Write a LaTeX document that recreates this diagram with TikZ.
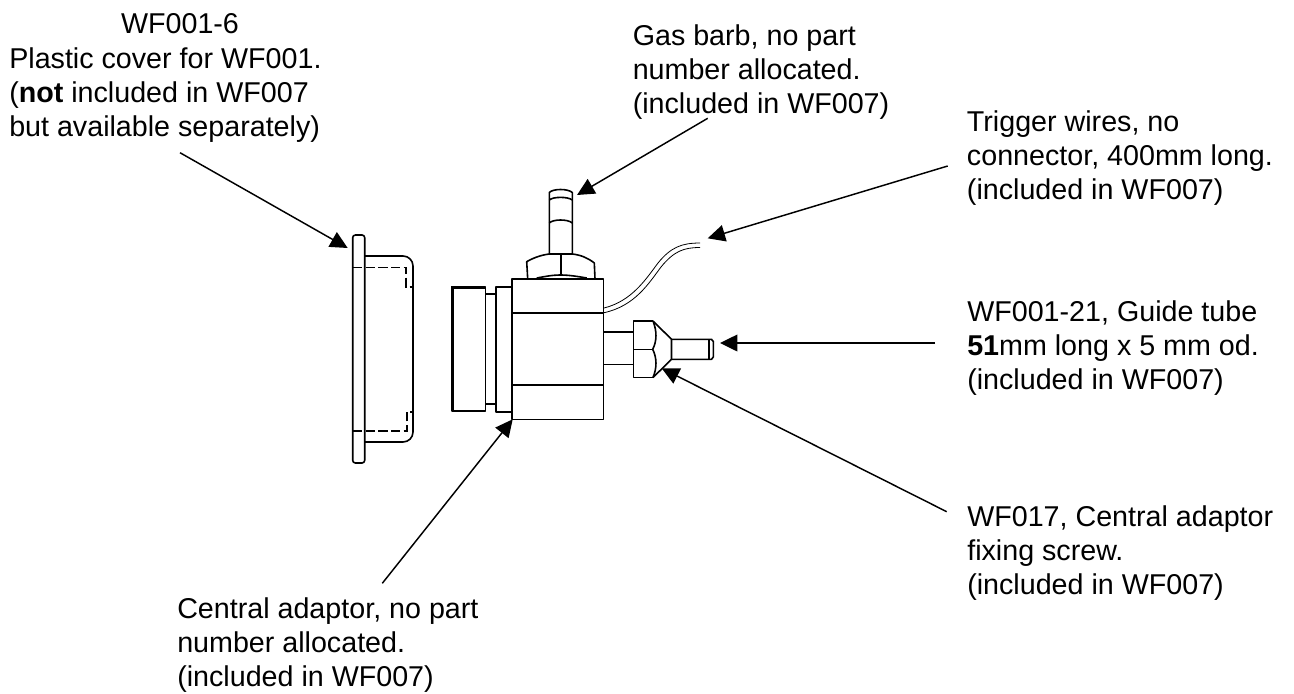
\documentclass[tikz,border=0pt]{standalone}
\usepackage{fontspec}
\setmainfont{Liberation Sans}
\usetikzlibrary{arrows.meta}
\newcommand{\tl}{\rule{0pt}{20pt}}
\tikzset{
  x=0.75pt,y=-0.75pt,
  txt/.style={anchor=north west,inner sep=0pt,align=left,font=\fontsize{21.5pt}{25.5pt}\selectfont},
  lead/.style={line width=1.1pt,-{Triangle[length=13pt,width=12.5pt]}},
  part/.style={line width=1.2pt,line join=round},
  hid/.style={line width=1.2pt,dash pattern=on 7pt off 2.5pt},
  wire/.style={line width=0.6pt}
}
\begin{document}
\begin{tikzpicture}
\useasboundingbox (0,0) rectangle (1294,693);
% plastic cover
\draw[part,rounded corners=2pt] (364.7,235) rectangle (352.7,463);
\draw[part,rounded corners=7.5pt] (364.7,256) -- (413,256) -- (413,442) -- (364.7,442);
\draw[hid] (353,267.3) -- (406,267.3) -- (406,286.7) -- (413,286.7);
\draw[hid] (353,430.7) -- (407,430.7) -- (407,411.7) -- (413,411.7);
% adaptor knob
\draw[part] (451.7,286.7) rectangle (485.3,411);
\draw[line width=2.4pt] (452.6,411) -- (452.6,287.5) -- (485,287.5);
\draw[part] (485.3,294) -- (496,294) (485.3,404) -- (496,404);
\draw[part] (496,286.7) rectangle (511.7,411.7);
% body
\draw[part] (511.7,279) rectangle (603.3,419.3);
\draw[part] (511.7,312.7) -- (603.3,312.7) (511.7,385) -- (603.3,385);
% hex nut on top
\draw[part] (527.7,279) -- (526.7,261.7) .. controls (533,258) and (541,255) .. (549.3,254) -- (572.3,254) .. controls (581,255) and (588,258) .. (594.3,263) -- (595,279);
\draw[part] (560.7,254) -- (560.7,275);
\draw[part] (536.7,278) .. controls (545,276.5) and (552,275) .. (560.7,275) .. controls (569,275) and (578,276.5) .. (586.7,278);
% gas barb
\draw[part] (549.3,254) -- (549.3,192.5) .. controls (553,188.5) and (568,188.5) .. (572.3,192.5) -- (572.3,254);
\draw[part] (549.3,200) .. controls (553,196.5) and (568,196.5) .. (572.3,200);
\draw[part] (549.3,223) .. controls (553,219) and (568,219) .. (572.3,223);
% trigger wires
\draw[wire] (604,308) .. controls (632,301) and (646,279) .. (658,263) .. controls (671,247) and (682,243) .. (700,243);
\draw[wire] (604,312.7) .. controls (635,306) and (649,283) .. (661,267) .. controls (674,251) and (684,247.5) .. (700,247.5);
% fixing screw and guide tube
\draw[part] (603.3,331.7) -- (633.3,331.7) (603.3,364.3) -- (633.3,364.3);
\draw[part] (653,321) -- (633.3,321) -- (633.3,377.5) -- (653,377.5);
\draw[part] (633.3,349.3) -- (652.7,349.3);
\draw[part] (653,321) .. controls (657,331) and (657,341) .. (652.7,349.3) .. controls (657,358) and (657,368) .. (653,377.5);
\draw[part] (653,321) -- (671.5,339.3) -- (671.5,359.3) -- (653,377.5);
\draw[part] (671.5,339.3) -- (711.5,339.3) -- (713.3,341.5) -- (713.3,357) -- (711.5,359.3) -- (671.5,359.3);
\draw[line width=0.8pt] (709,339.3) -- (709,359.3);
% texts
\node[anchor=base,inner sep=0pt,font=\fontsize{21.5pt}{25.5pt}\selectfont] (t0) at (180,33) {WF001-6};
\node[txt] (t1) at (9,41.3) {\tl Plastic cover for WF001.\\(\textbf{not} included in WF007\\but available separately)};
\node[txt] (t2) at (632.5,18.3) {\tl Gas barb, no part\\number allocated.\\(included in WF007)};
\node[txt] (t3) at (966.7,105) {\tl Trigger wires, no\\connector, 400mm long.\\(included in WF007)};
\node[txt] (t4) at (967,295) {\tl WF001-21, Guide tube\\\textbf{51}mm long x 5 mm od.\\(included in WF007)};
\node[txt] (t5) at (967,500) {\tl WF017, Central adaptor\\fixing screw.\\(included in WF007)};
\node[txt] (t6) at (177,592) {\tl Central adaptor, no part\\number allocated.\\(included in WF007)};
% leader end points
\coordinate (s1) at (180,152.7);  \coordinate (e1) at (347.7,248);
\coordinate (s2) at (707.7,118.3);\coordinate (e2) at (577,195);
\coordinate (s3) at (947.7,166);  \coordinate (e3) at (707.7,238.3);
\coordinate (s4) at (935,343);    \coordinate (e4) at (720,343);
\coordinate (s5) at (946.7,511.7);\coordinate (e5) at (661.7,368.3);
\coordinate (s6) at (382.3,583.3);\coordinate (e6) at (512.7,419.3);
\foreach \i in {1,...,6} \draw[lead] (s\i) -- (e\i);
\end{tikzpicture}
\end{document}
